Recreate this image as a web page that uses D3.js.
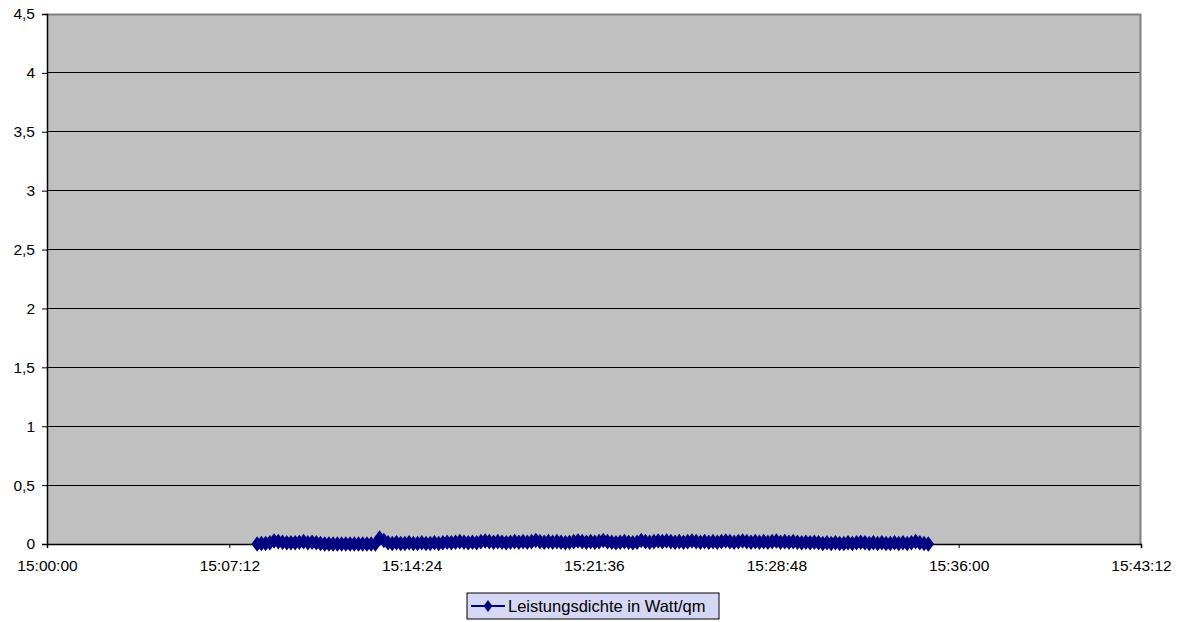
<!DOCTYPE html>
<html>
<head>
<meta charset="utf-8">
<script src="https://cdn.jsdelivr.net/npm/d3@7"></script>
<style>
  body { margin: 0; background: #fff; }
  svg { display: block; font-family: "Liberation Sans", Arial, sans-serif; }
</style>
</head>
<body>
<svg id="chart" width="1183" height="622"></svg>
<script>
// time axis: seconds after 15:00:00
var xTicks = [0, 432, 864, 1296, 1728, 2160, 2592];
var yTicks = [0, 0.5, 1, 1.5, 2, 2.5, 3, 3.5, 4, 4.5];
var seriesName = "Leistungsdichte in Watt/qm";
// samples every 10 s starting at about 15:08:18
var startSec = 498, stepSec = 10;
var values = [
  0, 0.005, 0.005, 0.01, 0.025, 0.02, 0.015, 0.01, 0.01, 0.01,
  0.015, 0.02, 0.01, 0.015, 0.01, 0.005, 0, 0, 0, 0,
  0, 0, 0, 0, 0, 0, 0, 0, 0, 0.05,
  0.03, 0.01, 0.005, 0.01, 0.005, 0.005, 0.01, 0.005, 0.005, 0.01,
  0.005, 0.005, 0.01, 0.005, 0.01, 0.015, 0.01, 0.015, 0.02, 0.015,
  0.01, 0.015, 0.01, 0.02, 0.025, 0.02, 0.015, 0.02, 0.015, 0.01,
  0.015, 0.02, 0.015, 0.02, 0.015, 0.02, 0.03, 0.02, 0.015, 0.02,
  0.015, 0.02, 0.015, 0.01, 0.015, 0.02, 0.025, 0.02, 0.015, 0.02,
  0.015, 0.02, 0.03, 0.02, 0.015, 0.01, 0.015, 0.02, 0.015, 0.01,
  0.015, 0.03, 0.02, 0.015, 0.02, 0.025, 0.02, 0.025, 0.02, 0.015,
  0.02, 0.015, 0.02, 0.025, 0.02, 0.015, 0.02, 0.015, 0.02, 0.015,
  0.02, 0.025, 0.02, 0.015, 0.02, 0.025, 0.02, 0.015, 0.02, 0.015,
  0.02, 0.015, 0.02, 0.025, 0.015, 0.02, 0.015, 0.02, 0.015, 0.01,
  0.015, 0.01, 0.015, 0.01, 0.005, 0.01, 0.005, 0.01, 0.005, 0.005,
  0.01, 0.005, 0.01, 0.015, 0.01, 0.005, 0.01, 0.005, 0.01, 0.005,
  0.005, 0.01, 0.005, 0.01, 0.005, 0.01, 0.02, 0.01, 0.005, 0
];

var data = values.map(function(v, i) { return {t: startSec + i * stepSec, v: v}; });

var margin = {top: 14, right: 42, bottom: 78, left: 47},
    width = 1183 - margin.left - margin.right,
    height = 622 - margin.top - margin.bottom;

var svg = d3.select("#chart");
var g = svg.append("g").attr("transform", "translate(" + margin.left + "," + margin.top + ")");

var x = d3.scaleLinear().domain([0, 2592]).range([0, width]);
var y = d3.scaleLinear().domain([0, 4.5]).range([height, 0]);

g.append("rect").attr("width", width).attr("height", height).attr("fill", "#c0c0c0");

// gridlines
g.selectAll(".grid").data(yTicks.slice(1)).enter().append("line")
  .attr("x1", 0).attr("x2", width)
  .attr("y1", function(d) { return y(d); }).attr("y2", function(d) { return y(d); })
  .attr("stroke", "#000").attr("stroke-width", 1).attr("shape-rendering", "crispEdges");

// plot border top/right
g.append("path")
  .attr("d", "M0,0.5H" + (width - 0.5) + "V" + height)
  .attr("fill", "none").attr("stroke", "#808080").attr("stroke-width", 2);

function fmtTime(s) {
  var tot = 15 * 3600 + s;
  var h = Math.floor(tot / 3600), m = Math.floor((tot % 3600) / 60), sec = tot % 60;
  return h + ":" + String(m).padStart(2, "0") + ":" + String(sec).padStart(2, "0");
}

var yAxis = g.append("g")
  .call(d3.axisLeft(y).tickValues(yTicks).tickSize(5).tickPadding(7)
    .tickFormat(function(d) { return String(d).replace(".", ","); }));
var xAxis = g.append("g").attr("transform", "translate(0," + height + ")")
  .call(d3.axisBottom(x).tickValues(xTicks).tickSize(4).tickPadding(11).tickFormat(fmtTime));

[yAxis, xAxis].forEach(function(a) {
  a.select(".domain").attr("stroke", "#000").attr("stroke-width", 1.5);
  a.selectAll("text").attr("fill", "#000").style("font-size", "15.5px")
    .style("font-family", "'Liberation Sans', Arial, sans-serif");
  a.selectAll("line").attr("stroke", "#000");
});
xAxis.selectAll("text").attr("dy", "0.8em");

var navy = "#000080";
var line = d3.line().x(function(d) { return x(d.t); }).y(function(d) { return y(d.v); });
g.append("path").datum(data).attr("d", line)
  .attr("fill", "none").attr("stroke", navy).attr("stroke-width", 6.5)
  .attr("stroke-linejoin", "round");

var diamond = d3.symbol().type(d3.symbolDiamond).size(70);
g.selectAll(".pt").data(data).enter().append("path")
  .attr("d", diamond)
  .attr("transform", function(d) { return "translate(" + x(d.t) + "," + y(d.v) + ") scale(1.3,1)"; })
  .attr("fill", navy);

// legend
var lg = svg.append("g").attr("transform", "translate(467,593)");
lg.append("rect").attr("width", 252).attr("height", 26)
  .attr("fill", "#d6d6f5").attr("stroke", "#000").attr("stroke-width", 1);
lg.append("line").attr("x1", 4).attr("x2", 38).attr("y1", 13).attr("y2", 13)
  .attr("stroke", navy).attr("stroke-width", 2);
lg.append("path").attr("d", d3.symbol().type(d3.symbolDiamond).size(40))
  .attr("transform", "translate(21,13) scale(1.3,1)").attr("fill", navy);
lg.append("text").attr("x", 41).attr("y", 19).text(seriesName)
  .style("font-size", "16.5px").attr("fill", "#000");
</script>
</body>
</html>
